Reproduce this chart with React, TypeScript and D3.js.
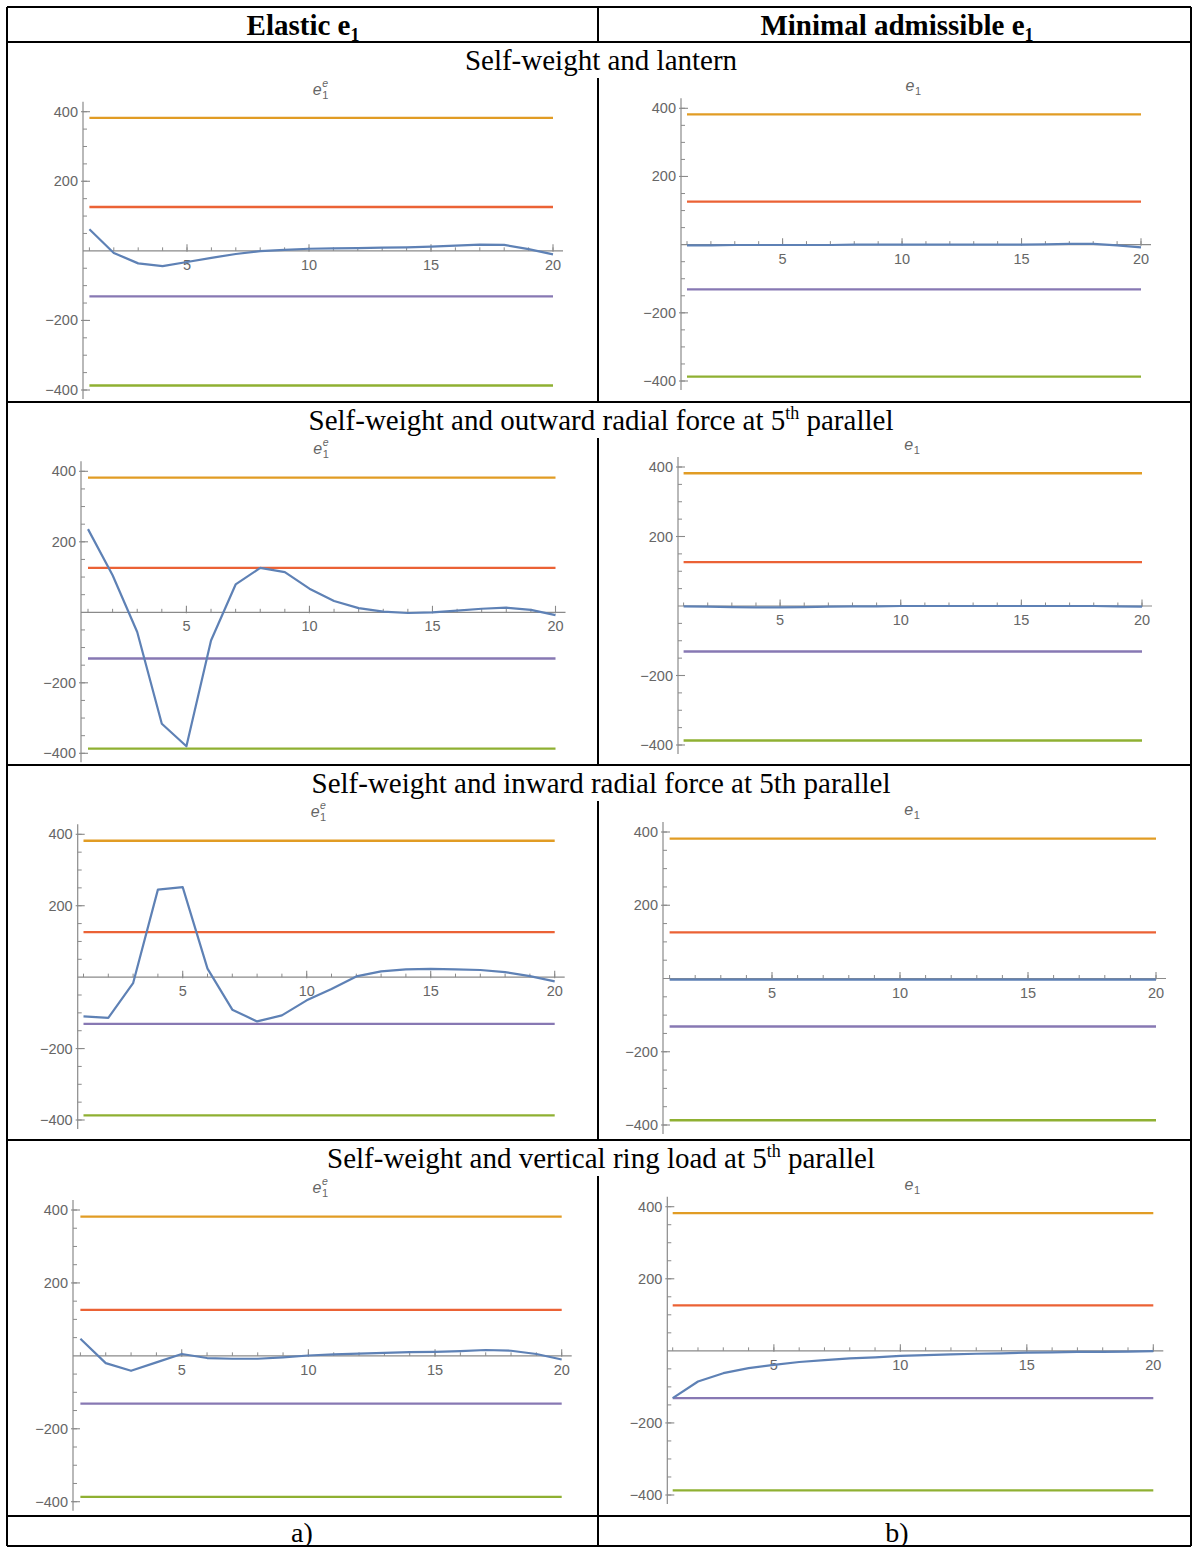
import React from "react";
import * as d3 from "d3";

// Parallel index along the dome (x axis of every plot)
const parallels = [1, 2, 3, 4, 5, 6, 7, 8, 9, 10, 11, 12, 13, 14, 15, 16, 17, 18, 19, 20];

// Eccentricity e1 for each load case: elastic (a) and minimal admissible (b)
const elasticLantern = [62, -6, -36, -44, -32, -20, -9, -1, 3, 6, 7, 8, 9, 10, 12, 15, 18, 17, 5, -10];
const minimalLantern = [-2, -2, -1, -1, -1, -1, -1, 0, 0, 0, 0, 0, 0, 0, 0, 1, 2, 2, -2, -8];
const elasticOutward = [236, 105, -56, -316, -380, -80, 79, 126, 114, 67, 32, 12, 2, -2, 0, 5, 10, 13, 7, -8];
const minimalOutward = [-1, -2, -3, -4, -4, -3, -2, -1, -1, 0, 0, 0, 0, 0, 0, 0, 0, 0, -1, -2];
const elasticInward = [-110, -114, -17, 245, 252, 24, -91, -124, -107, -65, -33, 2, 16, 22, 23, 22, 20, 14, 3, -12];
const minimalInward = [-3, -3, -3, -3, -3, -3, -3, -3, -3, -3, -3, -3, -3, -3, -3, -3, -3, -3, -3, -3];
const elasticRing = [47, -20, -41, -18, 5, -6, -8, -8, -4, 1, 4, 6, 8, 10, 11, 13, 16, 14, 5, -10];
const minimalRing = [-131, -85, -62, -48, -39, -31, -26, -21, -18, -14, -12, -10, -8, -7, -5, -4, -3, -3, -2, -1];

// Admissible limits drawn as horizontal reference lines
const limitValues = [382, 126, -131, -387];
const limitColors = ["#E19C24", "#EB6235", "#8778B3", "#8FB032"];

// Axis ticks
const yMajorTicks = [-400, -200, 200, 400];
const yMinorTicks = [-400, -350, -300, -250, -200, -150, -100, -50, 50, 100, 150, 200, 250, 300, 350, 400];
const xMajorTicks = [5, 10, 15, 20];

const sectionTitles = [
  { main: "Self-weight and lantern", sup: "", tail: "" },
  { main: "Self-weight and outward radial force at 5", sup: "th", tail: " parallel" },
  { main: "Self-weight and inward radial force at 5th parallel", sup: "", tail: "" },
  { main: "Self-weight and vertical ring load at 5", sup: "th", tail: " parallel" },
];

const seriesGrid = [
  [elasticLantern, minimalLantern],
  [elasticOutward, minimalOutward],
  [elasticInward, minimalInward],
  [elasticRing, minimalRing],
];

// Plot frames: y-axis position, x pixel of parallel 1 and 20, y pixel of +400 and -400
const frames = [
  [
    { ax: 83, x1: 89.4, x20: 553, yTop: 111.7, yBot: 390 },
    { ax: 681, x1: 687, x20: 1141, yTop: 108.3, yBot: 381 },
  ],
  [
    { ax: 81, x1: 88, x20: 555.5, yTop: 471.3, yBot: 753.3 },
    { ax: 678, x1: 683.6, x20: 1142, yTop: 467, yBot: 745 },
  ],
  [
    { ax: 77.7, x1: 83.5, x20: 554.7, yTop: 834.3, yBot: 1120 },
    { ax: 663, x1: 669.6, x20: 1156, yTop: 832, yBot: 1125 },
  ],
  [
    { ax: 73, x1: 80.4, x20: 561.7, yTop: 1210, yBot: 1501.7 },
    { ax: 667.3, x1: 672.7, x20: 1153.3, yTop: 1206.7, yBot: 1495 },
  ],
];

const rowTops = [42, 402, 765, 1140];
const rowBottom = 1516;
const tableLeft = 7;
const tableRight = 1191;
const tableMid = 598;
const tableTop = 7;
const tableBottom = 1546;

const axisGray = "#8a8a8a";
const labelGray = "#666666";
const sansFont = "'Liberation Sans', Arial, sans-serif";
const serifFont = "'Liberation Serif', 'Times New Roman', serif";

type Frame = { ax: number; x1: number; x20: number; yTop: number; yBot: number };

function Plot({ frame, values, elastic }: { frame: Frame; values: number[]; elastic: boolean }) {
  const x = d3.scaleLinear().domain([1, 20]).range([frame.x1, frame.x20]);
  const y = d3.scaleLinear().domain([-400, 400]).range([frame.yBot, frame.yTop]);
  const y0 = y(0);
  const line = d3
    .line<number>()
    .x((_, i) => x(parallels[i]))
    .y((d) => y(d));
  const cx = (frame.x1 + frame.x20) / 2 - 4;
  return (
    <g>
      {/* axis title */}
      <text x={cx} y={frame.yTop - 17} fontFamily={sansFont} fontSize={16} fill={labelGray} fontStyle="italic" textAnchor="middle">
        e
      </text>
      <text x={cx + 5} y={frame.yTop - 13} fontFamily={sansFont} fontSize={11} fill={labelGray}>
        1
      </text>
      {elastic && (
        <text x={cx + 5} y={frame.yTop - 25} fontFamily={sansFont} fontSize={10.5} fill={labelGray} fontStyle="italic">
          e
        </text>
      )}

      {/* y axis */}
      <line x1={frame.ax} x2={frame.ax} y1={frame.yTop - 10} y2={frame.yBot + 9} stroke={axisGray} strokeWidth={1.2} />
      {yMinorTicks.map((t) => (
        <line key={"ym" + t} x1={frame.ax} x2={frame.ax + 4} y1={y(t)} y2={y(t)} stroke={axisGray} strokeWidth={1} />
      ))}
      {yMajorTicks.map((t) => (
        <g key={"yM" + t}>
          <line x1={frame.ax - 2} x2={frame.ax + 7} y1={y(t)} y2={y(t)} stroke={axisGray} strokeWidth={1.1} />
          <text x={frame.ax - 5} y={y(t) + 5} fontFamily={sansFont} fontSize={14.5} fill={labelGray} textAnchor="end">
            {t < 0 ? "\u2212" + Math.abs(t) : String(t)}
          </text>
        </g>
      ))}

      {/* x axis */}
      <line x1={frame.ax} x2={frame.x20 + 10} y1={y0} y2={y0} stroke={axisGray} strokeWidth={1.2} />
      {parallels.map((p) => (
        <line key={"xm" + p} x1={x(p)} x2={x(p)} y1={y0} y2={y0 - 3.5} stroke={axisGray} strokeWidth={1} />
      ))}
      {xMajorTicks.map((t) => (
        <g key={"xM" + t}>
          <line x1={x(t)} x2={x(t)} y1={y0 + 1} y2={y0 - 6.5} stroke={axisGray} strokeWidth={1.1} />
          <text x={x(t)} y={y0 + 19} fontFamily={sansFont} fontSize={14.5} fill={labelGray} textAnchor="middle">
            {t}
          </text>
        </g>
      ))}

      {/* admissible limits */}
      {limitValues.map((v, i) => (
        <line key={"lim" + i} x1={x(1)} x2={x(20)} y1={y(v)} y2={y(v)} stroke={limitColors[i]} strokeWidth={2.3} />
      ))}

      {/* eccentricity curve */}
      <path d={line(values) || ""} fill="none" stroke="#5E81B5" strokeWidth={2.2} strokeLinejoin="round" />
    </g>
  );
}

export default function App() {
  const W = 1192;
  const H = 1547;
  const titleH = 36;
  return (
    <svg width={W} height={H} style={{ position: "absolute", left: 0, top: 0, background: "#fff" }}>
      <rect x={0} y={0} width={W} height={H} fill="#fff" />

      {/* table rules */}
      <g stroke="#000" strokeWidth={2} fill="none">
        <line x1={tableLeft} x2={tableLeft} y1={tableTop} y2={tableBottom} />
        <line x1={tableRight} x2={tableRight} y1={tableTop} y2={tableBottom} />
        <line x1={tableLeft} x2={tableRight} y1={tableTop} y2={tableTop} />
        <line x1={tableLeft} x2={tableRight} y1={tableBottom} y2={tableBottom} />
        {rowTops.map((t) => (
          <line key={"r" + t} x1={tableLeft} x2={tableRight} y1={t} y2={t} />
        ))}
        <line x1={tableLeft} x2={tableRight} y1={rowBottom} y2={rowBottom} />
        <line x1={tableMid} x2={tableMid} y1={tableTop} y2={rowTops[0]} />
        {rowTops.map((t, i) => (
          <line key={"v" + t} x1={tableMid} x2={tableMid} y1={t + titleH} y2={i < 3 ? rowTops[i + 1] : rowBottom} />
        ))}
        <line x1={tableMid} x2={tableMid} y1={rowBottom} y2={tableBottom} />
      </g>

      {/* column headers */}
      <text x={303} y={35} fontFamily={serifFont} fontSize={29} fontWeight="bold" textAnchor="middle">
        Elastic e<tspan fontSize={18} dy={6}>1</tspan>
      </text>
      <text x={897} y={35} fontFamily={serifFont} fontSize={29} fontWeight="bold" textAnchor="middle">
        Minimal admissible e<tspan fontSize={18} dy={6}>1</tspan>
      </text>

      {/* section titles */}
      {sectionTitles.map((s, i) => (
        <text key={"t" + i} x={601} y={rowTops[i] + 28} fontFamily={serifFont} fontSize={29} textAnchor="middle">
          {s.main}
          {s.sup && (
            <tspan fontSize={18} dy={-11}>
              {s.sup}
            </tspan>
          )}
          {s.tail && <tspan dy={s.sup ? 11 : 0}>{s.tail}</tspan>}
        </text>
      ))}

      {/* plots */}
      {seriesGrid.map((row, i) =>
        row.map((vals, j) => <Plot key={i + "-" + j} frame={frames[i][j]} values={vals} elastic={j === 0} />)
      )}

      {/* footer */}
      <text x={302} y={1542} fontFamily={serifFont} fontSize={28} textAnchor="middle">
        a)
      </text>
      <text x={897} y={1542} fontFamily={serifFont} fontSize={28} textAnchor="middle">
        b)
      </text>
    </svg>
  );
}
